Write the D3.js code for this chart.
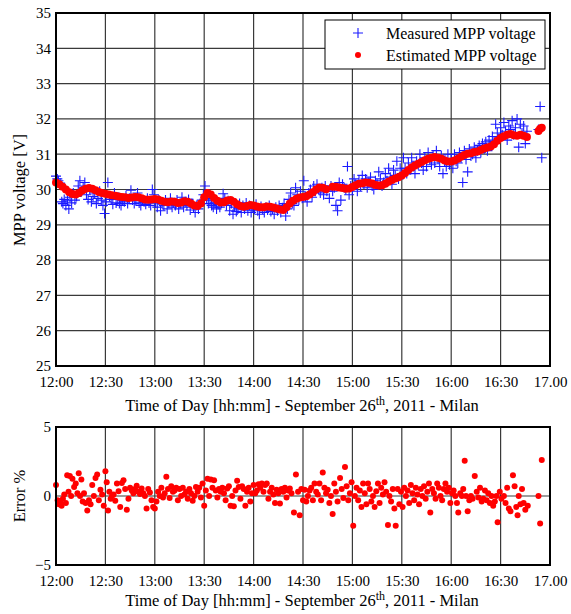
<!DOCTYPE html>
<html>
<head>
<meta charset="utf-8">
<script src="https://cdn.jsdelivr.net/npm/d3@7"></script>
<style>
  body { margin: 0; background: #fff; }
</style>
</head>
<body>
<div id="chart"></div>
<script>
// minutes after 12:00 for the axis ticks
let tickMinutes = [0, 30, 60, 90, 120, 150, 180, 210, 240, 270, 300];
let tickLabels = ["12:00", "12:30", "13:00", "13:30", "14:00", "14:30", "15:00", "15:30", "16:00", "16:30", "17.00"];
let voltTicks = [25, 26, 27, 28, 29, 30, 31, 32, 33, 34, 35];
let errTicks = [-5, 0, 5];

// Measured MPP voltage (blue +)
let measTime = [0,0.8,1.5,2.5,3.5,4.2,5,6,7,7.8,8.5,9.5,10.5,11.5,12.5,13.5,14.5,15.5,16.5,17.5,18.5,19.5,20.5,21.5,22.5,23.5,24.5,25.5,26.5,27.5,28.5,29.5,30.5,31.5,32.5,33.5,34.5,35.5,36.5,37.5,38.5,39.5,40.5,41.5,42.5,43.5,44.5,45.5,46.5,47.5,48.5,49.5,50.5,51.5,52.5,53.5,54.5,55.5,56.5,57.5,58.5,59.5,60.5,61.5,62.5,63.5,64.5,65.5,66.5,67.5,68.5,69.5,70.5,71.5,72.5,73.5,74.5,75.5,76.5,77.5,78.5,79.5,80.5,81.5,82.5,83.5,84.5,85.5,86.5,87.5,88.5,89.5,90.5,91.5,92.5,93.5,94.5,95.5,96.5,97.5,98.5,99.5,100.5,101.5,102.5,103.5,104.5,105.5,106.5,107.5,108.5,109.5,110.5,111.5,112.5,113.5,114.5,115.5,116.5,117.5,118.5,119.5,120.5,121.5,122.5,123.5,124.5,125.5,126.5,127.5,128.5,129.5,130.5,131.5,132.5,133.5,134.5,135.5,136.5,137.5,138.5,139.5,140.5,141.5,142.5,143.5,144.5,145.5,146.5,147.5,148.5,149.5,150.5,151.5,152.5,153.5,154.5,155.5,156.5,157.5,158.5,159.5,160.5,161.5,162.5,163.5,164.5,166,167,168,169,170,171,172,173,174,175,176,177,178,179,180,181,182,183,184,185,186,187,188,189,190,191,192,193,194,195,196,197,198,199,200,201,202,203,204,205,206,207,208,209,210,211,212,213,214,215,216,217,218,219,220,221,222,223,224,225,226,227,228,229,230,231,232,233,234,235,236,237,238,239,240,241,242,243,244,245,246,247,248,249,250,251,252,253,254,255,256,257,258,259,260,261,262,263,264,265,266,267,268,269,270,271,272,273,274,275,276,277,278,279,280,281,282,283,284,285,286,293,294,295];
let measVolt = [30.38,30.30,30.25,30.18,29.65,29.6,29.72,29.55,29.68,29.45,29.78,29.62,29.9,29.7,29.8,30.1,30.25,29.95,30.05,30.2,29.85,29.72,30.0,29.65,29.8,29.9,29.6,29.75,29.95,29.7,29.55,29.32,29.65,30.2,29.8,29.72,29.58,29.9,29.62,29.75,29.6,29.55,29.7,29.65,29.82,29.6,29.75,29.98,29.7,29.6,29.68,29.9,29.62,29.55,29.7,29.65,29.58,29.75,29.62,29.55,30.0,29.85,29.62,29.5,29.7,29.4,29.6,29.55,29.7,29.45,29.62,29.75,29.5,29.62,29.55,29.7,29.45,29.6,29.78,29.5,29.65,29.55,29.72,29.42,29.6,29.5,29.35,29.55,29.45,29.6,29.7,29.85,30.1,29.75,29.6,29.7,29.55,29.5,29.62,29.45,29.58,29.5,29.62,29.88,29.75,29.55,29.68,29.4,29.6,29.3,29.5,29.38,29.45,29.6,29.35,29.55,29.45,29.62,29.4,29.55,29.35,29.5,29.45,29.58,29.4,29.3,29.52,29.45,29.35,29.5,29.42,29.55,29.38,29.45,29.3,29.5,29.4,29.55,29.35,29.48,29.6,29.25,29.45,29.72,29.9,29.6,29.55,30.05,29.85,29.7,29.95,29.75,30.25,29.8,29.65,29.9,30.0,29.78,30.1,29.95,30.15,30.0,29.9,30.05,29.85,30.1,29.95,29.75,30.1,29.95,30.05,29.55,29.4,30.2,29.7,30.15,30.05,30.0,30.65,29.85,30.1,30.0,30.3,30.15,29.95,30.25,30.1,30.4,30.15,30.3,30.05,30.2,30.35,30.1,30.0,30.25,30.15,30.5,30.3,30.1,30.2,30.45,30.25,30.6,30.35,30.15,30.55,30.4,30.8,30.3,30.6,30.45,30.9,30.6,30.45,30.75,30.55,30.9,30.65,30.45,30.8,30.7,31.0,30.75,30.55,30.9,30.65,31.05,30.85,30.7,30.95,30.75,31.1,30.85,30.65,30.95,30.45,30.8,30.65,31.0,30.7,30.85,30.6,31.0,30.8,30.75,31.05,30.9,30.2,31.1,30.85,30.5,31.15,30.95,31.0,31.2,30.9,31.1,31.25,31.05,31.3,31.15,31.35,31.1,31.4,31.25,31.5,31.35,31.85,31.6,31.45,31.75,31.55,31.9,31.65,31.4,31.8,31.7,31.95,31.55,31.75,32.0,31.2,31.85,31.6,31.8,31.3,31.65,31.7,32.35,30.9];

// Estimated MPP voltage (red dots)
let estTime = [0,2,4,6,8,10,12,14,16,18,20,22,24,26,28,30,32,34,36,38,40,42,44,46,48,50,52,54,56,58,60,62,64,66,68,70,72,74,76,78,80,82,84,86,88,90,92,94,96,98,100,102,104,106,108,110,112,114,116,118,120,122,124,126,128,130,132,134,136,138,140,142,144,146,148,150,152,154,156,158,160,162,164,168,170,172,174,176,178,180,182,184,186,188,190,192,194,196,198,200,202,204,206,208,210,212,214,216,218,220,222,224,226,228,230,232,234,236,238,240,242,244,246,248,250,252,254,256,258,260,262,264,266,268,270,272,274,276,278,280,282,284,286,293,294,295];
let estVolt = [30.20,30.15,30.08,30.00,29.92,29.87,29.86,29.90,29.97,30.02,30.04,30.02,29.98,29.93,29.90,29.88,29.86,29.84,29.82,29.80,29.79,29.78,29.76,29.77,29.79,29.78,29.75,29.72,29.71,29.72,29.73,29.72,29.68,29.65,29.64,29.66,29.65,29.62,29.63,29.67,29.65,29.60,29.55,29.53,29.60,29.78,29.90,29.86,29.76,29.68,29.63,29.64,29.69,29.70,29.65,29.58,29.53,29.51,29.53,29.56,29.55,29.52,29.50,29.50,29.52,29.51,29.49,29.46,29.43,29.42,29.50,29.60,29.68,29.74,29.77,29.79,29.81,29.86,29.92,30.00,30.06,30.05,30.01,30.08,30.08,30.06,30.04,30.02,30.03,30.07,30.12,30.16,30.18,30.20,30.19,30.17,30.13,30.11,30.12,30.16,30.22,30.27,30.31,30.35,30.40,30.47,30.55,30.62,30.68,30.73,30.78,30.83,30.87,30.90,30.92,30.90,30.87,30.82,30.79,30.79,30.82,30.87,30.93,30.98,31.01,31.03,31.06,31.08,31.12,31.16,31.19,31.22,31.28,31.38,31.46,31.51,31.55,31.57,31.54,31.52,31.55,31.52,31.49,31.66,31.72,31.75];

// Error % (bottom panel)
let errTime = [0,1,1.8,2.6,3.4,4.2,5,6,6.8,7.6,8.4,9.2,10,11,12,13,13.8,14.6,15.4,16.2,17,18,19,20,21,22,23,24,25,26,27,28,29,30,30.8,31.6,32.4,33.2,34,35,36,37,38,39,40,41,42,43,44,45,46,47,48,49,50,51,52,53,54,55,56,57,58,59,60,61,62,63,64,65,66,67,68,69,70,71,72,73,74,75,76,77,78,79,80,81,82,83,84,85,86,87,88,89,90,91,92,93,94,95,96,97,98,99,100,101,102,103,104,105,106,107,108,109,110,111,112,113,114,115,116,117,118,119,120,121,122,123,124,125,126,127,128,129,130,131,132,133,134,135,136,137,138,139,140,141,142,143,144.5,145.7,147,148,149,150,151,152,153,154,155,156,157,158,159,160,161,162,163,164,165,166,167,168,169,170,171,172.5,173.5,174.5,175.5,176.5,177.5,178.5,179.5,180.5,181.5,182.5,183.5,184.5,185.5,186.5,187.5,188.5,189.5,190.5,191.5,192.5,193.5,194.5,195.5,196.5,197.5,198.5,199.5,200.5,201.6,202.5,203.5,204.5,205.5,206.3,207.5,208.5,209.5,210.5,211.5,212.5,213.5,214.5,215.5,216.5,217.5,218.5,219.5,220.5,221.5,222.5,223.5,224.5,225.5,226.5,227.3,228.5,229.5,230.5,231.5,232.5,233.5,234.5,235.5,236.5,237.5,238.5,239.5,240.5,241.5,242.5,243.5,244.3,245.5,246.5,247.3,248.2,249,250,251,252,253,254.3,255.5,256.5,257.5,258.5,259.5,260.5,261.5,262.5,263.5,264.5,265.5,266.5,267.5,268.2,269.5,270.5,272,273,274,275,276,277.5,278.5,279.5,280.3,281,282,283,284,285,286.5,293,294,295];
let errVal = [0.8,-0.3,-0.6,-0.45,-0.7,-0.2,0.1,-0.5,1.5,0.3,1.45,0.0,1.25,0.65,0.9,0.2,1.65,0.0,1.2,-0.4,0.2,-0.5,-1.05,-0.3,-0.6,0.8,0.0,1.3,1.55,-0.3,0.45,0.1,-0.7,1.8,1.0,-1.05,0.3,-0.2,0.0,0.1,-0.35,0.9,0.35,-0.8,0.95,1.15,0.5,-1.0,-0.2,0.6,0.4,0.2,0.5,0.75,0.3,0.15,0.55,0.2,0.0,-0.9,0.5,0.25,-0.3,-0.8,-0.9,-0.4,0.3,0.0,0.6,-0.1,0.2,1.4,0.5,-0.15,0.7,0.3,0.4,0.6,-0.3,0.5,0.0,0.6,0.1,0.3,-0.2,0.5,0.2,-0.35,0.0,0.65,0.3,0.6,-0.1,0.9,-0.7,0.4,1.25,0.0,1.2,0.6,1.15,0.4,-0.1,0.5,0.3,0.6,0.2,-0.3,0.55,0.7,-0.7,0.0,-0.75,0.4,1.1,0.65,-0.2,0.7,0.5,-0.7,0.3,0.6,-0.4,0.2,0.8,0.2,0.4,0.85,0.6,0.9,0.3,0.8,0.9,-0.2,0.3,0.6,0.1,-0.5,0.45,0.2,-0.55,0.5,0.3,0.6,-0.1,0.4,0.55,0.2,-1.2,1.55,0.3,-1.4,0.5,-0.3,0.45,-0.4,0.0,0.4,0.6,-0.3,0.9,0.3,0.1,0.9,-0.3,1.7,0.6,0.2,0.45,-0.5,0.0,-1.3,0.9,0.3,-0.4,1.3,0.5,-0.15,2.1,0.7,-0.3,0.2,1.0,-2.15,0.0,0.6,-0.3,0.4,-0.8,0.9,0.2,-0.6,0.9,0.5,-0.4,0.0,-0.8,0.35,0.9,-0.5,0.6,0.1,1.0,0.3,-2.1,0.0,-0.4,0.5,-0.9,-2.15,0.5,-0.6,0.3,-0.8,0.6,0.0,0.4,-0.5,0.8,0.2,-0.3,0.6,0.1,-0.6,0.5,0.0,0.7,-0.2,0.3,0.9,-1.2,0.5,0.2,-0.2,0.9,0.6,0.0,-0.3,0.5,0.9,0.3,0.6,-0.5,0.2,0.4,0.0,-0.5,-1.2,0.2,0.0,0.5,2.55,0.0,-1.1,-0.3,0.0,-0.2,1.45,0.3,-0.1,0.6,-0.4,-0.2,0.4,-0.3,0.2,-0.5,0.0,-0.7,-0.4,0.0,-1.9,0.3,-0.2,0.0,-0.5,0.6,-0.9,-1.1,1.5,0.7,-0.8,-1.4,0.0,-0.6,0.5,-0.5,-1.0,-0.7,0.0,-2.0,2.6];

let FONT = "'Liberation Serif', 'Times New Roman', serif";
let width = 571, height = 614;
let svg = d3.select("#chart").append("svg")
  .attr("width", width).attr("height", height);

let left = 56, right = 550;
let x = d3.scaleLinear().domain([0, 300]).range([left, right]);
let yTop = d3.scaleLinear().domain([25, 35]).range([366, 13]);
let yBot = d3.scaleLinear().domain([-5, 5]).range([565, 427]);

function drawFrame(y, ticks, top, bottom) {
  let g = svg.append("g");
  // grid
  g.selectAll(".vg").data(tickMinutes.slice(1, -1)).enter().append("line")
    .attr("x1", d => x(d)).attr("x2", d => x(d))
    .attr("y1", top).attr("y2", bottom)
    .attr("stroke", "#3a3a3a").attr("stroke-width", 1.2);
  g.selectAll(".hg").data(ticks.slice(1, -1)).enter().append("line")
    .attr("x1", left).attr("x2", right)
    .attr("y1", d => y(d)).attr("y2", d => y(d))
    .attr("stroke", "#3a3a3a").attr("stroke-width", 1.2);

  let xAxis = d3.axisBottom(x).tickValues(tickMinutes)
    .tickFormat((d, i) => tickLabels[i]).tickSize(0).tickPadding(10);
  let ax = svg.append("g").attr("transform", "translate(0," + bottom + ")").call(xAxis);
  ax.select(".domain").remove();
  ax.selectAll("text").style("font-family", FONT).style("font-size", "15px").attr("fill", "#000");

  let yAxis = d3.axisLeft(y).tickValues(ticks).tickSize(0).tickPadding(5);
  let ay = svg.append("g").attr("transform", "translate(" + left + ",0)").call(yAxis);
  ay.select(".domain").remove();
  ay.selectAll("text").style("font-family", FONT).style("font-size", "15px").attr("fill", "#000");
  return g;
}

function drawBorder(top, bottom) {
  svg.append("rect")
    .attr("x", left).attr("y", top)
    .attr("width", right - left).attr("height", bottom - top)
    .attr("fill", "none").attr("stroke", "#000").attr("stroke-width", 2);
}

function label(sel, size) {
  return sel.style("font-family", FONT).style("font-size", size + "px").attr("fill", "#000");
}

// ---- top panel
drawFrame(yTop, voltTicks, 13, 366);

svg.append("g").selectAll("path").data(measTime).enter().append("path")
  .attr("d", (d, i) => {
    let cx = x(d), cy = yTop(measVolt[i]);
    return "M" + (cx - 5) + "," + cy + "H" + (cx + 5) + "M" + cx + "," + (cy - 5) + "V" + (cy + 5);
  })
  .attr("stroke", "#1a1aff").attr("stroke-width", 1.1).attr("fill", "none");

svg.append("g").selectAll("circle").data(estTime).enter().append("circle")
  .attr("cx", d => x(d))
  .attr("cy", (d, i) => yTop(estVolt[i]))
  .attr("r", 4).attr("fill", "#ff0000");

drawBorder(13, 366);

// legend
let leg = svg.append("g");
leg.append("rect").attr("x", 325).attr("y", 20).attr("width", 220).attr("height", 49)
  .attr("fill", "#fff").attr("stroke", "#000").attr("stroke-width", 1);
leg.append("path").attr("d", "M353,33H363M358,28V38")
  .attr("stroke", "#1a1aff").attr("stroke-width", 1.1);
leg.append("circle").attr("cx", 358).attr("cy", 55).attr("r", 3).attr("fill", "#ff0000");
label(leg.append("text").attr("x", 386).attr("y", 39), 16).text("Measured MPP voltage");
label(leg.append("text").attr("x", 386).attr("y", 61), 16).text("Estimated MPP voltage");

// titles
function xTitle(yPos) {
  let t = label(svg.append("text").attr("x", 302).attr("y", yPos)
    .attr("text-anchor", "middle"), 16.5);
  t.append("tspan").text("Time of Day [hh:mm] - September 26");
  t.append("tspan").attr("dy", -6).style("font-size", "12px").text("th");
  t.append("tspan").attr("dy", 6).text(", 2011 - Milan");
}
xTitle(411);
label(svg.append("text").attr("transform", "translate(25,190) rotate(-90)")
  .attr("text-anchor", "middle"), 16.5).text("MPP voltage [V]");

// ---- bottom panel
drawFrame(yBot, errTicks, 427, 565);

svg.append("g").selectAll("circle").data(errTime).enter().append("circle")
  .attr("cx", d => x(d))
  .attr("cy", (d, i) => yBot(errVal[i]))
  .attr("r", 3).attr("fill", "#ff0000");

drawBorder(427, 565);
xTitle(606);
label(svg.append("text").attr("transform", "translate(25,496) rotate(-90)")
  .attr("text-anchor", "middle"), 16.5).text("Error %");
</script>
</body>
</html>
